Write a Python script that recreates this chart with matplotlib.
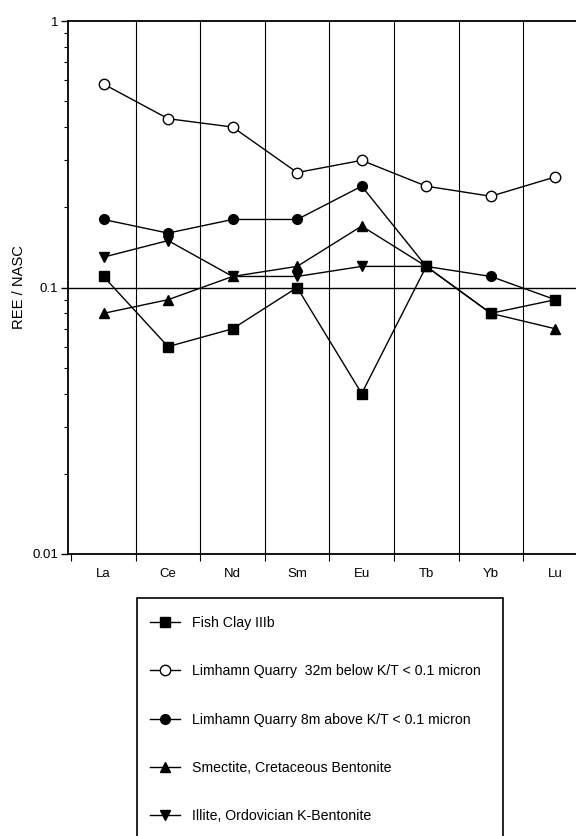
import matplotlib
matplotlib.use("Agg")
import matplotlib.pyplot as plt
import numpy as np
from matplotlib.patches import Rectangle
from matplotlib.ticker import FixedLocator, NullFormatter, LogLocator

plt.rcParams['font.family'] = ['Liberation Sans', 'DejaVu Sans']

elements = ["La", "Ce", "Nd", "Sm", "Eu", "Tb", "Yb", "Lu"]
fish_clay = [0.11, 0.06, 0.07, 0.10, 0.04, 0.12, 0.08, 0.09]
limhamn_below = [0.58, 0.43, 0.40, 0.27, 0.30, 0.24, 0.22, 0.26]
limhamn_above = [0.18, 0.16, 0.18, 0.18, 0.24, 0.12, 0.11, 0.09]
smectite = [0.08, 0.09, 0.11, 0.12, 0.17, 0.12, 0.08, 0.07]
illite = [0.13, 0.15, 0.11, 0.11, 0.12, 0.12, np.nan, np.nan]

labels = ["Fish Clay IIIb",
          "Limhamn Quarry  32m below K/T < 0.1 micron",
          "Limhamn Quarry 8m above K/T < 0.1 micron",
          "Smectite, Cretaceous Bentonite",
          "Illite, Ordovician K-Bentonite"]

W, H = 576, 836
fig = plt.figure(figsize=(W / 100, H / 100), dpi=100)
ax = fig.add_axes([68 / W, 1 - 554 / H, (W - 68) / W, (554 - 21) / H])

x = np.arange(len(elements))
kw = dict(color='black', lw=1.0)
h1, = ax.plot(x, fish_clay, marker='s', ms=6.5, mfc='black', mec='black', **kw)
h2, = ax.plot(x, limhamn_below, marker='o', ms=7.5, mfc='white', mec='black', mew=1.0, **kw)
h3, = ax.plot(x, limhamn_above, marker='o', ms=7, mfc='black', mec='black', **kw)
h4, = ax.plot(x, smectite, marker='^', ms=7, mfc='black', mec='black', **kw)
h5, = ax.plot(x, illite, marker='v', ms=7, mfc='black', mec='black', **kw)

ax.set_yscale('log')
ax.set_ylim(0.01, 1)
ax.set_xlim(-0.55, 7.32)

# y ticks
ax.set_yticks([0.01, 0.1, 1])
ax.set_yticklabels(["0.01", "0.1", "1"])
ax.yaxis.set_minor_locator(LogLocator(base=10, subs=np.arange(2, 10)))
ax.yaxis.set_minor_formatter(NullFormatter())
ax.tick_params(axis='y', which='major', length=5, width=1, direction='out', labelsize=9.5, pad=2)
ax.tick_params(axis='y', which='minor', length=3, width=0.8, direction='out')

# x ticks: boundaries as tick marks, labels at centers
bounds = np.arange(len(elements)) - 0.5
ax.xaxis.set_major_locator(FixedLocator(bounds))
ax.xaxis.set_major_formatter(NullFormatter())
ax.xaxis.set_minor_locator(FixedLocator(x))
ax.set_xticklabels(elements, minor=True)
ax.tick_params(axis='x', which='major', length=5, width=0.8, direction='out')
ax.tick_params(axis='x', which='minor', length=0, labelsize=9.5, pad=10)

# grid lines
for b in bounds[1:]:
    ax.axvline(b, color='black', lw=0.8, zorder=0)
ax.axhline(0.1, color='black', lw=1.0, zorder=0)

for s in ['left', 'bottom', 'top']:
    ax.spines[s].set_linewidth(1.3)
ax.spines['right'].set_visible(False)

ax.set_ylabel("REE / NASC", fontsize=10.6)
ax.yaxis.set_label_coords(-0.082, 0.5)

# legend box
fig.patches.append(Rectangle((137 / W, -0.01), (503 - 137) / W, (1 - 598 / H) + 0.01,
                             transform=fig.transFigure, fill=False, ec='black', lw=1.2))
leg = fig.legend([h1, h2, h3, h4, h5], labels, loc='upper left',
                 bbox_to_anchor=(150 / W, 1 - 616 / H), frameon=False,
                 fontsize=10.2, labelspacing=2.42, handlelength=2.1, handletextpad=0.85,
                 borderpad=0, borderaxespad=0)

fig.savefig("out.png", dpi=100)
